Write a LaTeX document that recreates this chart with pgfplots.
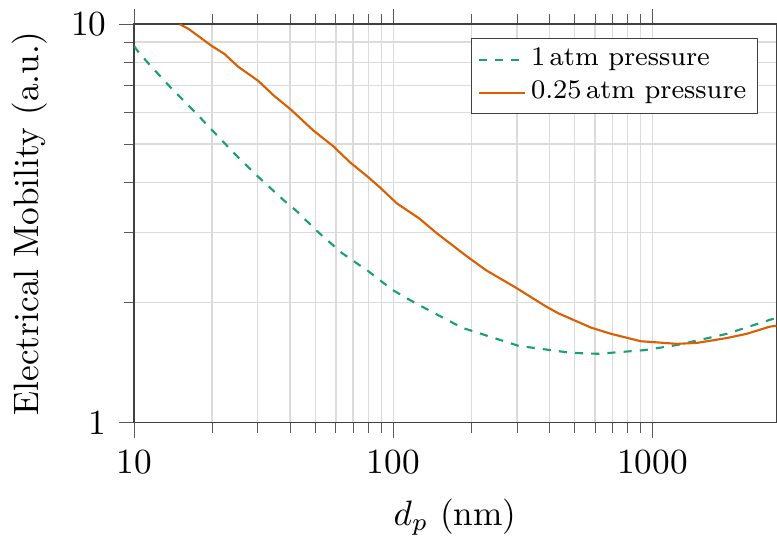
\documentclass[border=0pt]{standalone}
\usepackage{pgfplots}
\pgfplotsset{compat=1.18}
\definecolor{dtwogreen}{HTML}{1B9E77}
\definecolor{dtwoorange}{HTML}{D95F02}
\begin{document}
\begin{tikzpicture}
\begin{axis}[
    xmode=log, ymode=log,
    scale only axis,
    width=182pt, height=113pt,
    xmin=10, xmax=3000,
    ymin=1, ymax=10,
    xtick={10,100,1000},
    xticklabels={10,100,1000},
    ytick={1,10},
    yticklabels={1,10},
    xlabel={$d_p$ (nm)},
    ylabel={Electrical Mobility (a.u.)},
    grid=both,
    major grid style={draw=gray!28},
    minor grid style={draw=gray!28},
    tick align=outside,
    xtick pos=both,
    ytick pos=left,
    tick style={gray!70!black},
    axis line style={black!75},
    legend style={at={(0.972,0.965)}, anchor=north east, draw=black!75,
        font=\fontsize{7.6}{9.3}\selectfont, inner xsep=1.8pt, inner ysep=1.3pt,
        nodes={inner sep=1.4pt}},
    legend cell align=left,
    legend image code/.code={\draw[#1] (0cm,0cm) -- (0.46cm,0cm);},
]
\addplot[dtwogreen, semithick, dash pattern=on 2.3pt off 2.3pt] coordinates {
    (10,8.81) (10.3,8.56) (11.4,7.94) (13.97,6.88) (16.96,6.06) (20.4,5.34)
    (25.0,4.65) (30.3,4.12) (37.8,3.61) (42.0,3.41) (51.4,3.00) (63.5,2.66)
    (79.9,2.40) (99.5,2.15) (112.7,2.05) (126,1.97) (184,1.73) (305,1.557)
    (486,1.496) (616,1.488) (932,1.52) (1246,1.566) (1936,1.67) (2826,1.81)
    (3000,1.83)
};
\addlegendentry{1\,atm pressure}
\addplot[dtwoorange, semithick] coordinates {
    (15.0,9.98) (16.2,9.72) (19.9,8.81) (22.3,8.41) (25.2,7.81) (30.1,7.20)
    (34.6,6.61) (40.2,6.10) (49.2,5.40) (58.7,4.93) (68.2,4.49) (79.2,4.15)
    (88.8,3.89) (103,3.55) (126,3.25) (146.6,2.99) (191,2.62) (228,2.41)
    (297,2.18) (386,1.96) (433,1.88) (580,1.73) (691,1.67) (899,1.60)
    (1246,1.576) (1486,1.585) (1936,1.63) (2307,1.67) (2826,1.74) (3000,1.75)
};
\addlegendentry{0.25\,atm pressure}
\end{axis}
\end{tikzpicture}
\end{document}
